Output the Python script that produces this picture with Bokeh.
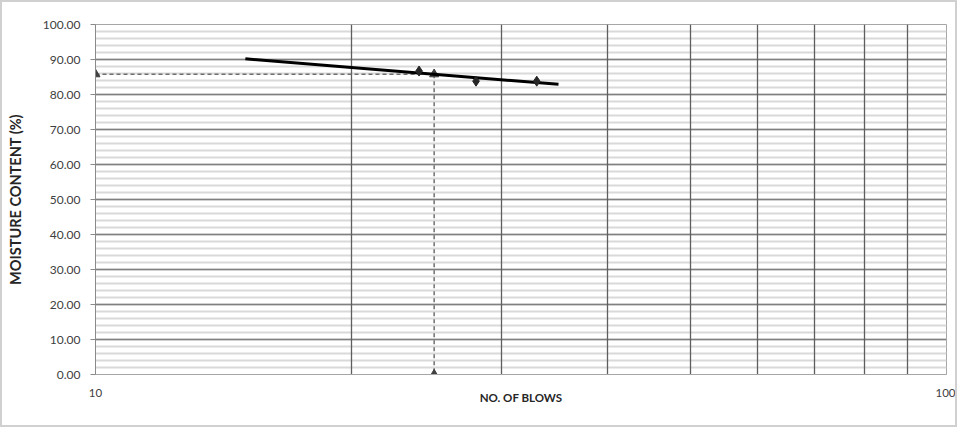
from bokeh.plotting import figure
from bokeh.models import FixedTicker, BasicTickFormatter, PrintfTickFormatter, Range1d
from bokeh.embed import file_html
from bokeh.resources import INLINE

# data
blows = [24, 28, 33]
moisture = [86.7, 83.8, 83.8]

trend_x = [15, 35]
trend_y = [90.2, 82.9]

ll_blows = 25
ll_value = 85.8

x_grid_ticks = [10, 20, 30, 40, 50, 60, 70, 80, 90, 100]
x_label_ticks = [10, 100]
y_ticks = [0, 10, 20, 30, 40, 50, 60, 70, 80, 90, 100]
y_minor = list(range(0, 101, 2))

FONT = "Lato"

p = figure(width=957, height=427, x_axis_type="log", output_backend="svg",
           toolbar_location=None, x_range=Range1d(10, 100), y_range=Range1d(0, 100),
           min_border_left=93, min_border_top=22, min_border_right=13, min_border_bottom=55)
p.styles = {"border": "2px solid #d0d0d0"}
p.background_fill_color = "white"
p.outline_line_color = "#a6a6a6"

# grids
p.xgrid.ticker = FixedTicker(ticks=x_grid_ticks)
p.xgrid.grid_line_color = "#5e5e5e"
p.xgrid.grid_line_width = 1.3
p.ygrid.ticker = FixedTicker(ticks=y_ticks, minor_ticks=y_minor)
p.ygrid.grid_line_color = "#808080"
p.ygrid.grid_line_width = 1.3
p.ygrid.minor_grid_line_color = "#d9d9d9"
p.ygrid.minor_grid_line_width = 2
p.ygrid.level = "image"

# x axis
p.xaxis.ticker = FixedTicker(ticks=x_label_ticks)
p.xaxis.formatter = BasicTickFormatter()
p.xaxis.major_tick_out = 0
p.xaxis.major_tick_in = 0
p.xaxis.minor_tick_out = 0
p.xaxis.minor_tick_in = 0
p.xaxis.major_label_standoff = 14
p.xaxis.axis_line_color = "#a6a6a6"
p.xaxis.major_label_text_font = FONT
p.xaxis.major_label_text_font_size = "11.5px"
p.xaxis.major_label_text_color = "#404040"
p.xaxis.axis_label = "NO. OF BLOWS"
p.xaxis.axis_label_text_font = FONT
p.xaxis.axis_label_text_font_style = "bold"
p.xaxis.axis_label_text_font_size = "11.5px"
p.xaxis.axis_label_text_color = "#262626"
p.xaxis.axis_label_standoff = -9

# y axis
p.yaxis.ticker = FixedTicker(ticks=y_ticks)
p.yaxis.formatter = PrintfTickFormatter(format="%.2f")
p.yaxis.major_tick_out = 5
p.yaxis.major_tick_in = 0
p.yaxis.minor_tick_out = 0
p.yaxis.major_tick_line_color = "#8a8a8a"
p.yaxis.axis_line_color = "#8a8a8a"
p.yaxis.major_label_standoff = 10
p.yaxis.major_label_text_font = FONT
p.yaxis.major_label_text_font_size = "12px"
p.yaxis.major_label_text_color = "#404040"
p.yaxis.axis_label = "MOISTURE CONTENT (%)"
p.yaxis.axis_label_text_font = FONT
p.yaxis.axis_label_text_font_style = "bold"
p.yaxis.axis_label_text_font_size = "14.5px"
p.yaxis.axis_label_text_color = "#262626"
p.yaxis.axis_label_standoff = 16

# dashed liquid limit guide
p.line([x_label_ticks[0], ll_blows], [ll_value, ll_value], line_color="#6e6e6e",
       line_dash="4 3", line_width=1.5)
p.line([ll_blows, ll_blows], [ll_value, 0], line_color="#6e6e6e",
       line_dash="4 3", line_width=1.5)
p.scatter([x_label_ticks[0], ll_blows, ll_blows], [ll_value, ll_value, 0], marker="triangle",
          size=9, color="#404040")

# trend line
p.line(trend_x, trend_y, line_color="black", line_width=3)

# data points
p.scatter(blows, moisture, marker="diamond", size=10, color="#262626")

open("out.html", "w").write(file_html(p, INLINE))
